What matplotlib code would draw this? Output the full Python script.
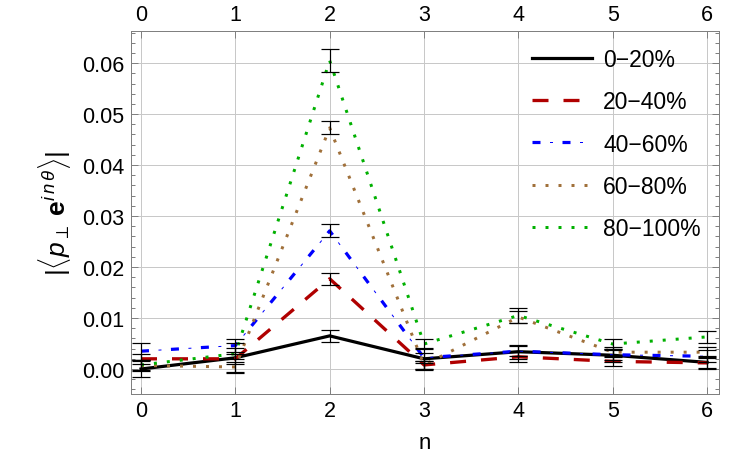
import matplotlib
matplotlib.use("Agg")
import matplotlib.pyplot as plt
from matplotlib.lines import Line2D
from matplotlib.legend_handler import HandlerBase

plt.rcParams['font.family'] = ['Liberation Sans', 'DejaVu Sans']
plt.rcParams['mathtext.fontset'] = 'custom'
plt.rcParams['mathtext.rm'] = 'Liberation Sans'
plt.rcParams['mathtext.it'] = 'Liberation Sans:italic'
plt.rcParams['mathtext.bf'] = 'Liberation Sans:bold'
plt.rcParams['lines.scale_dashes'] = False

n = [0, 1, 2, 3, 4, 5, 6]
labels = ["0−20%", "20−40%", "40−60%", "60−80%", "80−100%"]
v_0_20 = [0.0000, 0.0022, 0.0065, 0.0020, 0.0034, 0.0027, 0.0013]
e_0_20 = [0.0015, 0.0030, 0.0012, 0.0022, 0.0014, 0.0013, 0.0012]
v_20_40 = [0.0020, 0.0020, 0.0177, 0.0008, 0.0024, 0.0015, 0.0012]
e_20_40 = [0.0010, 0.0010, 0.0012, 0.0008, 0.0010, 0.0010, 0.0010]
v_40_60 = [0.0035, 0.0046, 0.0271, 0.0022, 0.0035, 0.0028, 0.0025]
e_40_60 = [0.0017, 0.0012, 0.0013, 0.0010, 0.0010, 0.0010, 0.0012]
v_60_80 = [0.0007, 0.0004, 0.0473, 0.0008, 0.0102, 0.0033, 0.0033]
e_60_80 = [0.0010, 0.0010, 0.0013, 0.0008, 0.0011, 0.0010, 0.0010]
v_80_100 = [0.0008, 0.0030, 0.0605, 0.0049, 0.0105, 0.0049, 0.0063]
e_80_100 = [0.0010, 0.0011, 0.0022, 0.0010, 0.0015, 0.0010, 0.0012]

px = 0.72  # points per pixel at 100 dpi
BLUE = '#0000FF'
BLUE_THICK = dict(color=BLUE, lw=3.2*px, linestyle=(0, (8*px, 22*px)))
BLUE_THIN = dict(color=BLUE, lw=1.0*px, linestyle=(12.5*px, (3*px, 27*px)))


class BlueHandler(HandlerBase):
    def create_artists(self, legend, orig_handle, xdescent, ydescent,
                       width, height, fontsize, trans):
        y = height / 2 - ydescent
        x0, x1 = -xdescent, -xdescent + width
        a = Line2D([x0, x1], [y, y], transform=trans, **BLUE_THICK)
        b = Line2D([x0, x1], [y, y], transform=trans, **BLUE_THIN)
        return [a, b]


fig = plt.figure(figsize=(7.51, 4.64), dpi=100)
ax = fig.add_axes([131/751, 1-395/464, (719-131)/751, (395-32)/464])

ebkw = dict(fmt='none', ecolor='black', elinewidth=1.2*px, capsize=9*px, capthick=1.2*px, zorder=5)

l0, = ax.plot(n, v_0_20, color='black', lw=3.2*px, solid_joinstyle='miter', zorder=3)
ax.errorbar(n, v_0_20, yerr=e_0_20, **ebkw)

l1, = ax.plot(n, v_20_40, color='#B00000', lw=3.3*px, dashes=(16*px, 15*px), zorder=3)
ax.errorbar(n, v_20_40, yerr=e_20_40, **ebkw)

l2a, = ax.plot(n, v_40_60, zorder=3, **BLUE_THICK)
l2b, = ax.plot(n, v_40_60, zorder=3, **BLUE_THIN)
ax.errorbar(n, v_40_60, yerr=e_40_60, **ebkw)

l3, = ax.plot(n, v_60_80, color='#A0703A', lw=3.0*px, dashes=(3*px, 10*px), zorder=3)
ax.errorbar(n, v_60_80, yerr=e_60_80, **ebkw)

l4, = ax.plot(n, v_80_100, color='#00B000', lw=3.0*px, dashes=(3*px, 10*px), zorder=3)
ax.errorbar(n, v_80_100, yerr=e_80_100, **ebkw)

ax.set_xlim(-0.106, 6.127)
ax.set_ylim(-0.0049, 0.0663)
ax.set_xticks(n)
ax.set_yticks([0.00, 0.01, 0.02, 0.03, 0.04, 0.05, 0.06])
ax.set_yticklabels(["0.00", "0.01", "0.02", "0.03", "0.04", "0.05", "0.06"])
ax.set_yticks([i*0.002 for i in range(-2, 34)], minor=True)
ax.grid(True, which='major', color='#C8C8C8', lw=1.0*px)
ax.set_axisbelow(True)
for s in ax.spines.values():
    s.set_color('#808080')
    s.set_linewidth(1.0*px)
ax.tick_params(which='both', direction='in', colors='#808080', labelcolor='black',
               top=True, right=True, labeltop=True, labelsize=15.5)
ax.tick_params(which='major', length=7*px, width=1.0*px)
ax.tick_params(which='minor', length=4*px, width=1.0*px)
ax.tick_params(axis='x', pad=4)
ax.tick_params(axis='y', pad=5)

ax.set_xlabel('n', fontsize=16, labelpad=8)
ax.set_ylabel(r'$|\langle p_{\perp}\ \mathbf{e}^{i\,n\,\theta}\rangle|$', fontsize=19, labelpad=6)

fs = 16.5
leg = fig.legend([l0, l1, l2a, l3, l4], labels,
                 handler_map={l2a: BlueHandler()},
                 loc='upper left', bbox_to_anchor=(532/751, 1-49/464),
                 frameon=False, fontsize=fs, handlelength=60/(fs/px), handletextpad=11/(fs/px),
                 labelspacing=0.84, borderaxespad=0, borderpad=0)

fig.savefig('out.png', dpi=100)
